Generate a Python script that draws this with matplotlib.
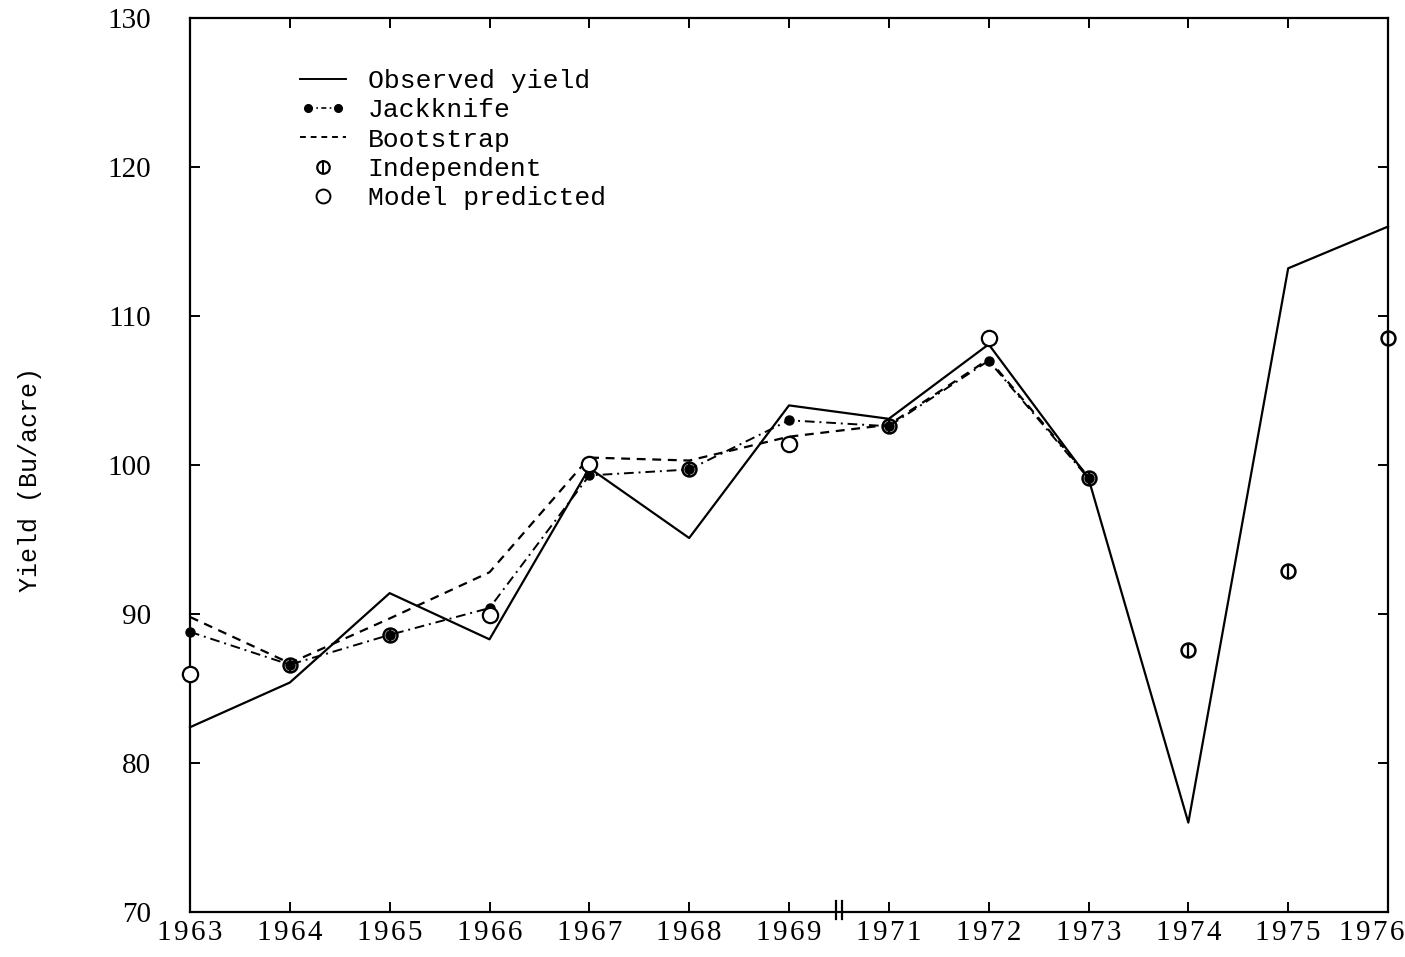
import numpy as np
import matplotlib
matplotlib.use("Agg")
import matplotlib.pyplot as plt
import matplotlib.transforms as mtransforms
from matplotlib.lines import Line2D
from matplotlib.legend_handler import HandlerLine2D

# years on the axis (1970 is left out, the axis has a break there)
years = ["1963", "1964", "1965", "1966", "1967", "1968", "1969",
         "1971", "1972", "1973", "1974", "1975", "1976"]

observed = [82.4, 85.4, 91.4, 88.3, 99.8, 95.1, 104.0, 103.1, 108.1, 99.1, 76.0, 113.2, 116.0]
jackknife = [88.8, 86.6, 88.6, 90.4, 99.3, 99.7, 103.0, 102.6, 107.0, 99.1]
bootstrap = [89.8, 86.7, 89.7, 92.8, 100.5, 100.3, 101.9, 102.7, 107.1, 99.2]

indep_years = ["1964", "1965", "1968", "1971", "1973", "1974", "1975", "1976"]
indep_vals = [86.6, 88.6, 99.7, 102.6, 99.1, 87.6, 92.9, 108.5]

model_years = ["1963", "1966", "1967", "1969", "1972"]
model_vals = [86.0, 89.9, 100.1, 101.4, 108.5]

y_ticks = [70, 80, 90, 100, 110, 120, 130]

serif = ["Liberation Serif", "DejaVu Serif"]
mono = ["Liberation Mono", "DejaVu Sans Mono"]

pos = {y: i for i, y in enumerate(years)}
x_all = np.arange(len(years))

fig = plt.figure(figsize=(14.05, 9.57), dpi=100)
ax = fig.add_axes([190/1405, 1-912/957, 1198/1405, 894/957])

ax.plot(x_all, observed, color="black", lw=1.6, ls="-", clip_on=False, zorder=3)
ax.plot(x_all[:len(bootstrap)], bootstrap, color="black", lw=1.6, ls=(0, (4, 3)), clip_on=False, zorder=3)
ax.plot(x_all[:len(jackknife)], jackknife, color="black", lw=1.4, ls=(0, (5, 2.5, 1, 2.5)),
        marker="o", ms=6.5, mfc="black", mec="black", clip_on=False, zorder=4)

xi = [pos[y] for y in indep_years]
ax.plot(xi, indep_vals, ls="none", marker="o", ms=10, mfc="none", mec="black", mew=1.8,
        clip_on=False, zorder=5)
ax.plot(xi, indep_vals, ls="none", marker="|", ms=10, mec="black", mew=1.6,
        clip_on=False, zorder=5)

xm = [pos[y] for y in model_years]
ax.plot(xm, model_vals, ls="none", marker="o", ms=11, mfc="white", mec="black", mew=1.6,
        clip_on=False, zorder=6)

ax.set_xlim(0, len(years) - 1)
ax.set_ylim(70, 130)

ax.set_xticks(x_all)
ax.set_xticklabels(["\u200a".join(y) for y in years], fontfamily=serif, fontsize=21)
ax.set_yticks(y_ticks)
ax.set_yticklabels([str(v) for v in y_ticks], fontfamily=serif, fontsize=21)
ax.tick_params(axis="both", direction="in", length=7, width=1.4,
               top=True, right=True)
ax.tick_params(axis="x", pad=6)
ax.tick_params(axis="y", pad=28)
for s in ax.spines.values():
    s.set_linewidth(1.6)

# last year label sits a little to the left so it stays on the page
last = ax.get_xticklabels()[-1]
last.set_transform(last.get_transform() +
                   mtransforms.ScaledTranslation(-16/100, 0, fig.dpi_scale_trans))

# axis break mark between 1969 and 1971
for bx in [6.47, 6.53]:
    ax.plot([bx, bx], [-0.008, 0.012], color="black", lw=1.6,
            transform=ax.get_xaxis_transform(), clip_on=False)

fig.text(30/1405, 1-480/957, "Yield (Bu/acre)", rotation=90, ha="center", va="center",
         fontfamily=mono, fontsize=18)

# legend
h_obs = Line2D([], [], color="black", lw=1.4)
h_jk = Line2D([], [], color="black", lw=1.2, ls=(0, (3, 2, 1, 2)), marker="o", ms=5.5)
h_bs = Line2D([], [], color="black", lw=1.4, ls=(0, (3, 2.5)))
h_in1 = Line2D([], [], ls="none", marker="o", ms=9, mfc="none", mec="black", mew=1.6)
h_in2 = Line2D([], [], ls="none", marker="|", ms=10, mec="black", mew=1.4)
h_mp = Line2D([], [], ls="none", marker="o", ms=10, mfc="white", mec="black", mew=1.4)

ax.legend([h_obs, h_jk, h_bs, (h_in1, h_in2), h_mp],
          ["Observed yield", "Jackknife", "Bootstrap", "Independent", "Model predicted"],
          loc="upper left", bbox_to_anchor=(0.092, 0.943), frameon=False,
          prop={"family": mono, "size": 19}, handlelength=1.75, handletextpad=0.8,
          labelspacing=0.2, numpoints=1, borderpad=0, borderaxespad=0,
          handler_map={h_jk: HandlerLine2D(numpoints=2)})

fig.savefig("out.png", dpi=100)
